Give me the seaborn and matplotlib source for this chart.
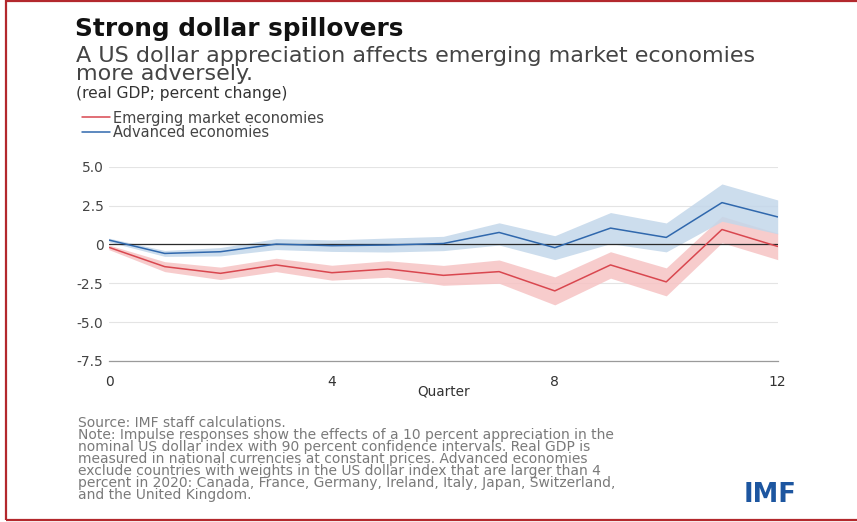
import numpy as np
import pandas as pd
import seaborn as sns
from matplotlib import pyplot as plt
from matplotlib.patches import Rectangle

# impulse responses (real GDP, percent change)
quarters = list(range(13))
emerging = [-0.19, -1.43, -1.86, -1.32, -1.82, -1.58, -1.99, -1.75, -2.99, -1.32, -2.41, 0.96, -0.13]
emerging_lo = [-0.34, -1.75, -2.26, -1.75, -2.30, -2.11, -2.63, -2.50, -3.89, -2.17, -3.31, 0.11, -0.98]
emerging_hi = [-0.04, -1.11, -1.46, -0.89, -1.34, -1.05, -1.35, -1.00, -2.09, -0.47, -1.51, 1.81, 0.72]
advanced = [0.28, -0.58, -0.47, 0.02, -0.08, -0.04, 0.06, 0.77, -0.21, 1.05, 0.45, 2.69, 1.77]
advanced_lo = [0.16, -0.77, -0.74, -0.33, -0.45, -0.49, -0.40, -0.04, -0.98, 0.05, -0.48, 1.49, 0.68]
advanced_hi = [0.40, -0.39, -0.20, 0.37, 0.29, 0.41, 0.52, 1.39, 0.56, 2.05, 1.38, 3.89, 2.86]

series_names = ["Emerging market economies", "Advanced economies"]
x_ticks = [0, 4, 8, 12]
y_ticks = [5.0, 2.5, 0, -2.5, -5.0, -7.5]
y_tick_labels = ["5.0", "2.5", "0", "-2.5", "-5.0", "-7.5"]

subtitle_lines = [
    "A US dollar appreciation affects emerging market economies",
    "more adversely.",
]
note_lines = [
    "Source: IMF staff calculations.",
    "Note: Impulse responses show the effects of a 10 percent appreciation in the",
    "nominal US dollar index with 90 percent confidence intervals. Real GDP is",
    "measured in national currencies at constant prices. Advanced economies",
    "exclude countries with weights in the US dollar index that are larger than 4",
    "percent in 2020: Canada, France, Germany, Ireland, Italy, Japan, Switzerland,",
    "and the United Kingdom.",
]

line_colors = {"Emerging market economies": "#d9474f", "Advanced economies": "#3068ad"}
band_colors = {"Emerging market economies": "#f6c3c4", "Advanced economies": "#c3d7ea"}

W, H = 857, 522


def fx(px):
    return px / W


def fy(py):
    return 1 - py / H


sns.set_style("white")
plt.rcParams["font.family"] = ["DejaVu Sans"]

df = pd.DataFrame(
    {
        "quarter": quarters * 2,
        "value": emerging + advanced,
        "lo": emerging_lo + advanced_lo,
        "hi": emerging_hi + advanced_hi,
        "group": [series_names[0]] * 13 + [series_names[1]] * 13,
    }
)

fig = plt.figure(figsize=(W / 100, H / 100), dpi=100)
ax = fig.add_axes([fx(109), fy(361), fx(777.7) - fx(109), fy(166.7) - fy(361)])

# confidence bands first, advanced on top like the original
for name in series_names:
    sub = df[df["group"] == name]
    ax.fill_between(sub["quarter"], sub["lo"], sub["hi"], color=band_colors[name],
                    alpha=0.85, lw=0, zorder=1)

ax.axhline(0, color="#2a2a2a", lw=0.9, zorder=2)

sns.lineplot(data=df, x="quarter", y="value", hue="group", hue_order=series_names,
             palette=line_colors, lw=1.1, ax=ax, zorder=3, legend=True)

ax.set_xlim(0, 12)
ax.set_ylim(-7.5, 5.0)
ax.set_xticks(x_ticks)
ax.set_yticks(y_ticks)
ax.set_yticklabels(y_tick_labels)
ax.yaxis.grid(True, color="#e4e4e4", lw=0.8)
ax.set_axisbelow(True)
for s in ["top", "right", "left"]:
    ax.spines[s].set_visible(False)
ax.spines["bottom"].set_color("#9a9a9a")
ax.spines["bottom"].set_linewidth(0.9)
ax.tick_params(axis="x", length=4, width=0.9, color="#bbbbbb", pad=6,
               labelsize=10, labelcolor="#333333")
ax.tick_params(axis="y", length=0, pad=4, labelsize=10, labelcolor="#444444")
ax.set_xlabel("Quarter", fontsize=9.8, color="#333333", labelpad=-3)
ax.set_ylabel("")

handles, labels = ax.get_legend_handles_labels()
ax.get_legend().remove()
fig.legend(handles, labels, loc="upper left", bbox_to_anchor=(fx(82), fy(110.5)),
           frameon=False, fontsize=10.5, handlelength=1.9, handletextpad=0.2,
           labelspacing=-0.05, borderpad=0, borderaxespad=0, labelcolor="#444444")

fig.text(fx(75), fy(36), "Strong dollar spillovers", fontsize=17.8, fontweight="bold",
         color="#111111", va="baseline")
# multi-line text: baseline refers to the last line
fig.text(fx(76), fy(80), "\n".join(subtitle_lines), fontsize=16, color="#444444",
         va="baseline", linespacing=0.88)
fig.text(fx(76), fy(98), "(real GDP; percent change)", fontsize=11.2, color="#333333",
         va="baseline")

fig.text(fx(78), fy(498.5), "\n".join(note_lines), fontsize=10, color="#7a7a7a",
         va="baseline", linespacing=0.81)

fig.text(fx(770), fy(502), "IMF", fontsize=18.5, fontweight="bold", color="#1d56a0",
         va="baseline", ha="center")

fig.add_artist(Rectangle((fx(5.5), 2 / H), 1.0, 1 - 3 / H, transform=fig.transFigure,
                         fill=False, edgecolor="#b3282d", lw=1.6))

fig.savefig("out.png", dpi=100)
